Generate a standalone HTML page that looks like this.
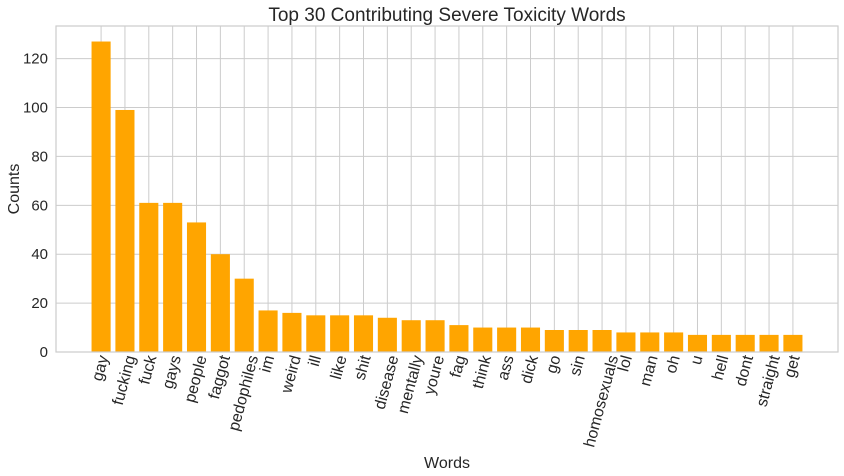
<!DOCTYPE html>
<html><head><meta charset="utf-8"><style>
body{margin:0;background:#fff}
svg{display:block;font-family:"Liberation Sans",Arial,sans-serif}
</style></head><body>
<svg id="chart" width="844" height="476" viewBox="0 0 844 476">
<rect x="0" y="0" width="844" height="476" fill="#fff"/>
<g id="grid"></g><g id="bars"></g><g id="xlabels"></g><g id="yticks"></g>
<rect x="56" y="26" width="782" height="326" fill="none" stroke="#cccccc" stroke-width="1.2"/>
<text x="447" y="21" font-size="19" text-anchor="middle" fill="#262626">Top 30 Contributing Severe Toxicity Words</text>
<text x="447" y="468" font-size="16" text-anchor="middle" fill="#262626">Words</text>
<text transform="translate(19,189) rotate(-90)" font-size="16" text-anchor="middle" fill="#262626">Counts</text>
</svg>
<script>
const categories=["gay","fucking","fuck","gays","people","faggot","pedophiles","im","weird","ill","like","shit","disease","mentally","youre","fag","think","ass","dick","go","sin","homosexuals","lol","man","oh","u","hell","dont","straight","get"];
const counts=[127,99,61,61,53,40,30,17,16,15,15,15,14,13,13,11,10,10,10,9,9,9,8,8,8,7,7,7,7,7];
const yTicks=[0,20,40,60,80,100,120];
const NS="http://www.w3.org/2000/svg";
const L=56,R=838,T=26,B=352;
const xmin=-1.89,xmax=categories.length-1+1.89;
const ymax=Math.max(...counts)*1.05;
const xs=i=>L+(i-xmin)/(xmax-xmin)*(R-L);
const ys=v=>B-v/ymax*(B-T);
const bw=0.8*(R-L)/(xmax-xmin);
function mk(tag,attrs,parent){const e=document.createElementNS(NS,tag);for(const k in attrs)e.setAttribute(k,attrs[k]);document.getElementById(parent).appendChild(e);return e;}
yTicks.forEach(t=>{
 const g=mk("line",{x1:L,x2:R,y1:ys(t),y2:ys(t),stroke:"#cccccc","stroke-width":1},"grid");
 
 
 const tx=mk("text",{x:L-8,y:ys(t)+5,"font-size":15,"text-anchor":"end",fill:"#262626"},"yticks");
 tx.textContent=t;
 
 
});
categories.forEach((c,i)=>{
 const g=mk("line",{x1:xs(i),x2:xs(i),y1:T,y2:B,stroke:"#cccccc","stroke-width":1},"grid");
 
 
});
categories.forEach((c,i)=>{
 const b=mk("rect",{x:xs(i)-bw/2,y:ys(counts[i]),width:bw,height:B-ys(counts[i]),fill:"#ffa500"},"bars");
 
 
 const t=mk("text",{"font-size":16,"text-anchor":"end",fill:"#262626"},"xlabels");
 t.textContent=c;
 
 
 const len=t.getComputedTextLength();
 const ex=xs(i)+0.13*len+4;
 t.setAttribute("transform","translate("+ex+",357) rotate(-75)");
});
</script>
</body></html>
